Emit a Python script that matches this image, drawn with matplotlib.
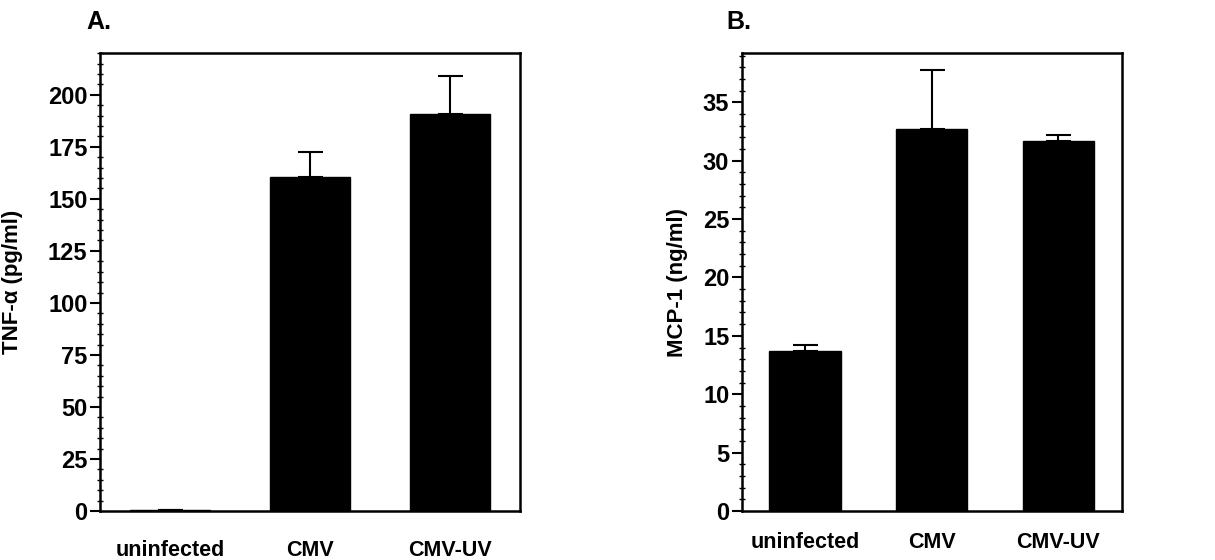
import matplotlib

matplotlib.use("Agg")
import matplotlib.pyplot as plt
from matplotlib.ticker import MultipleLocator

plt.rcParams["font.family"] = ["Liberation Sans", "DejaVu Sans"]
plt.rcParams["font.weight"] = "bold"

# Shared categories
groups = ["uninfected", "CMV", "CMV-UV"]

# Panel A: TNF-alpha (pg/ml)
tnf_mean = [0.5, 160.5, 191]
tnf_err = [0, 12, 18]

# Panel B: MCP-1 (ng/ml)
mcp_mean = [13.7, 32.7, 31.7]
mcp_err = [0.5, 5.1, 0.5]


def draw_panel(ax, means, errs, ylim, major, minor, ylabel, label_x, xpad):
    x = range(len(groups))
    ax.bar(x, means, width=0.565, color="black", edgecolor="black", zorder=2)
    ax.errorbar(x, means, yerr=[[0] * len(errs), errs], fmt="none",
                ecolor="black", elinewidth=1.5, capsize=9, capthick=1.5, zorder=3)
    ax.set_xlim(-0.5, len(groups) - 0.5)
    ax.set_ylim(0, ylim)
    ax.yaxis.set_major_locator(MultipleLocator(major))
    ax.yaxis.set_minor_locator(MultipleLocator(minor))
    ax.set_xticks(list(x))
    ax.set_xticklabels(groups, fontsize=15.5, fontweight="bold")
    ax.tick_params(axis="x", length=0, pad=xpad)
    ax.tick_params(axis="y", which="major", direction="out", length=7,
                   width=1.5, labelsize=17, pad=2)
    ax.tick_params(axis="y", which="minor", direction="inout", length=4, width=1)
    for sp in ax.spines.values():
        sp.set_linewidth(1.8)
    for lbl in ax.get_yticklabels():
        lbl.set_fontweight("bold")
    ax.set_ylabel(ylabel, fontsize=16, fontweight="bold")
    ax.yaxis.set_label_coords(label_x, 0.5)


fig = plt.figure(figsize=(12.15, 5.6), dpi=100)
ax_a = fig.add_axes([0.0823, 0.0875, 0.3457, 0.8175])
ax_b = fig.add_axes([0.6105, 0.0875, 0.3127, 0.8175])

draw_panel(ax_a, tnf_mean, tnf_err, 220, 25, 5, "TNF-α (pg/ml)", -0.183, 21)
draw_panel(ax_b, mcp_mean, mcp_err, 39.2, 5, 1, "MCP-1 (ng/ml)", -0.141, 15)

fig.text(0.071, 0.96, "A.", fontsize=18, fontweight="bold", va="center")
fig.text(0.598, 0.96, "B.", fontsize=18, fontweight="bold", va="center")

fig.savefig("out.png", dpi=100, facecolor="white")
